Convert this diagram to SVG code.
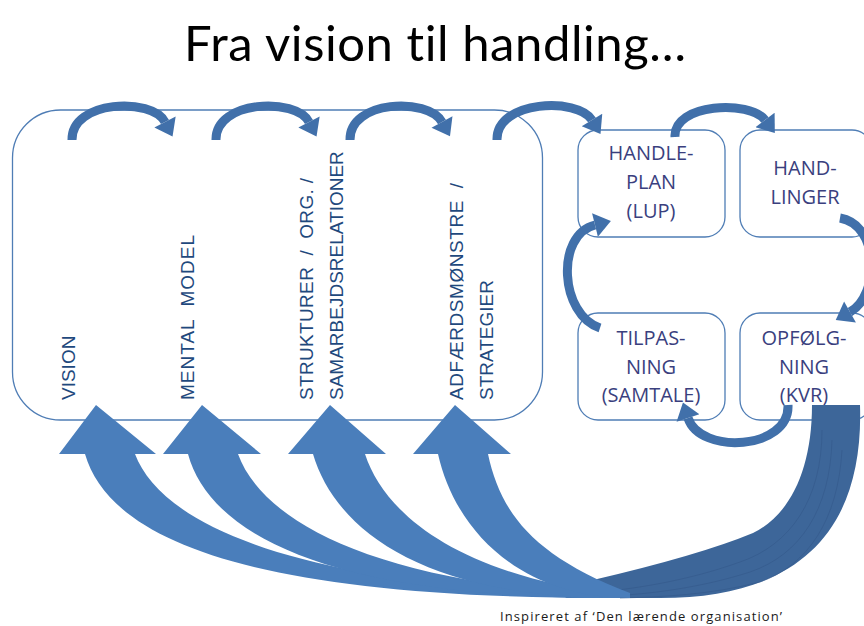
<svg xmlns="http://www.w3.org/2000/svg" width="864" height="626" viewBox="0 0 864 626">
<style>
.box{fill:#fff;stroke:#4F7DB5;stroke-width:1.3}
.vt{font-family:"Liberation Sans",Arial,sans-serif;font-size:19px;fill:#1F497D}
.bt{font-family:"Open Sans","Liberation Sans",sans-serif;font-size:20px;fill:#3A3F7E;text-anchor:middle}
.arc{fill:none;stroke:#4170AA;stroke-width:9}
.light{fill:#4A7EBB}
.dark{fill:#3D6699}
.seam{fill:none;stroke:#34598a;stroke-width:1;opacity:0.6}
</style>
<defs>
<marker id="ah" markerUnits="userSpaceOnUse" markerWidth="20" markerHeight="24" refX="0" refY="11" orient="auto" viewBox="0 0 16 22">
<path d="M0,0 L15,11 L0,22 Z" fill="#4170AA"/>
</marker>
</defs>
<rect width="864" height="626" fill="#fff"/>
<text x="184" y="61" font-family="Lato,'Open Sans',sans-serif" font-size="49" fill="#000" textLength="502" style="font-variant-ligatures:none">Fra vision til handling…</text>

<g id="panel">
<rect class="box" x="12.5" y="110" width="530" height="310" rx="48" ry="48"/>
</g>
<g id="vision"><text class="vt" transform="translate(75,400) rotate(-90)">VISION</text></g>
<g id="mental-model"><text class="vt" xml:space="preserve" textLength="165" transform="translate(194,400) rotate(-90)">MENTAL  MODEL</text></g>
<g id="strukturer"><text class="vt" xml:space="preserve" textLength="222" transform="translate(313,400) rotate(-90)">STRUKTURER  /  ORG. /</text><text class="vt" transform="translate(343,400) rotate(-90)">SAMARBEJDSRELATIONER</text></g>
<g id="adfaerd"><text class="vt" xml:space="preserve" textLength="217" transform="translate(463,400) rotate(-90)">ADFÆRDSMØNSTRE  /</text><text class="vt" transform="translate(493,400) rotate(-90)">STRATEGIER</text></g>

<g id="handleplan"><rect class="box" x="578" y="130" width="147" height="107" rx="20"/><text class="bt" x="651" y="160">HANDLE-</text><text class="bt" x="651" y="189">PLAN</text><text class="bt" x="651" y="218">(LUP)</text></g>
<g id="handlinger"><rect class="box" x="740" y="130" width="132" height="107" rx="20"/><text class="bt" x="805" y="175">HAND-</text><text class="bt" x="805" y="204">LINGER</text></g>
<g id="tilpasning"><rect class="box" x="578" y="313" width="147" height="107" rx="20"/><text class="bt" x="651" y="345">TILPAS-</text><text class="bt" x="651" y="374">NING</text><text class="bt" x="651" y="402">(SAMTALE)</text></g>
<g id="opfoelgning"><rect class="box" x="740" y="313" width="132" height="107" rx="20"/><text class="bt" x="804" y="345">OPFØLG-</text><text class="bt" x="804" y="374">NING</text><text class="bt" x="804" y="402">(KVR)</text></g>

<g id="connectors">
<path class="arc" marker-end="url(#ah)" d="M72,140 C71,100 152,97 165,122"/>
<path class="arc" marker-end="url(#ah)" d="M216,140 C215,100 296,97 309,122"/>
<path class="arc" marker-end="url(#ah)" d="M350,140 C349,100 428,97 442,122"/>
<path class="arc" marker-end="url(#ah)" d="M497,140 C496,100 578,97 592,120"/>
<path class="arc" marker-end="url(#ah)" d="M675,137 C673,103 750,100 765,120"/>
<path class="arc" marker-end="url(#ah)" d="M840,218 C880,225 880,295 850,312"/>
<path class="arc" marker-end="url(#ah)" d="M788,405 C790,450 700,455 688,418"/>
<path class="arc" marker-end="url(#ah)" d="M600,328 C560,315 555,235 595,225"/>

<path class="dark" d="M812,405 L860,405 C864,530 800,598 660,598 L565,598 C575,592 585,585 593,580 Q700,555 753,533 C790,515 812,470 812,405 Z"/>
<path class="seam" d="M822,430 C822,500 790,545 740,562 C690,580 640,588 600,592"/>
<path class="seam" d="M832,440 C830,510 800,555 750,572 C700,588 650,594 610,596"/>
<path class="seam" d="M842,450 C838,520 808,565 760,582 C710,595 660,597 620,598"/>

<path class="light" d="M96,405 L156,454 L135,454 C160,520 280,585 610,596 L610,598 C250,598 110,540 85,454 L59,454 Z"/>
<path class="light" d="M202,405 L261,454 L238,454 C262,520 370,583 615,596 L615,598 C330,598 210,535 188,454 L163,454 Z"/>
<path class="light" d="M330,405 L386,454 L365,454 C385,515 460,576 620,595 L620,598 C420,598 335,528 313,454 L288,454 Z"/>
<path class="light" d="M455,405 L511,454 L488,454 C500,510 530,555 630,593 L630,598 C520,598 455,530 438,454 L413,454 Z"/>
</g>

<text x="500" y="621" font-family="'Open Sans','Liberation Sans',sans-serif" font-size="13" fill="#1a1a1a" textLength="282">Inspireret af ‘Den lærende organisation’</text>
</svg>
